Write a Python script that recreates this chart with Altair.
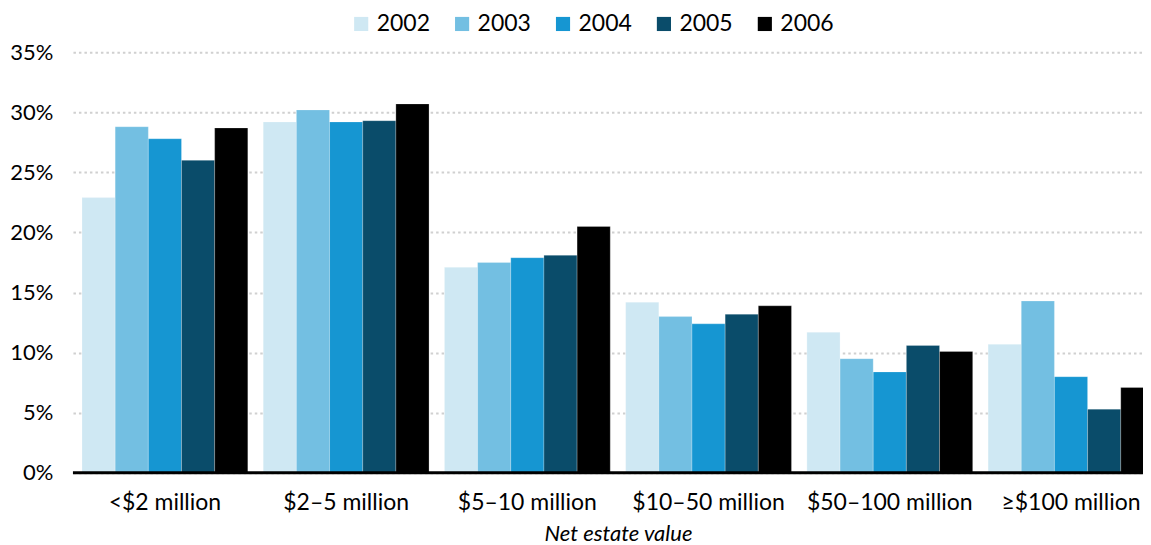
import altair as alt
import pandas as pd

categories = ["<$2 million", "$2–5 million", "$5–10 million", "$10–50 million", "$50–100 million", "≥$100 million"]
years = ["2002", "2003", "2004", "2005", "2006"]
values = {
    "2002": [22.9, 29.2, 17.1, 14.2, 11.7, 10.7],
    "2003": [28.8, 30.2, 17.5, 13.0, 9.5, 14.3],
    "2004": [27.8, 29.2, 17.9, 12.4, 8.4, 8.0],
    "2005": [26.0, 29.3, 18.1, 13.2, 10.6, 5.3],
    "2006": [28.7, 30.7, 20.5, 13.9, 10.1, 7.1],
}
colors = ["#cfe8f3", "#73bfe2", "#1696d2", "#0a4c6a", "#000000"]
y_ticks = [0, 5, 10, 15, 20, 25, 30, 35]

rows = []
for y in years:
    for c, v in zip(categories, values[y]):
        rows.append({"category": c, "year": y, "value": v})
df = pd.DataFrame(rows)

FONT = "Lato"

bars = alt.Chart(df).mark_bar(stroke="white", strokeWidth=0.6, strokeOpacity=0.4).encode(
    x=alt.X("category:N", sort=categories,
            scale=alt.Scale(paddingInner=0.085, paddingOuter=0.05),
            axis=alt.Axis(title="Net estate value", titleFont=FONT, titleFontStyle="italic",
                          titleFontWeight="normal", titleFontSize=22, titleColor="#000",
                          titlePadding=9, labelFont=FONT, labelFontSize=23, labelColor="#000",
                          labelPadding=19, ticks=False, domain=False, grid=False, labelAngle=0)),
    xOffset=alt.XOffset("year:N", sort=years, scale=alt.Scale(paddingInner=0, paddingOuter=0)),
    y=alt.Y("value:Q", scale=alt.Scale(domain=[0, 35], nice=False),
            axis=alt.Axis(values=y_ticks, title=None, labelExpr="datum.value + '%'",
                          labelFont=FONT, labelFontSize=22, labelColor="#000", labelPadding=20,
                          ticks=False, domain=False, grid=True, gridColor="#d0d0d0",
                          gridDash=[2.5, 3], gridWidth=2)),
    color=alt.Color("year:N", sort=years, scale=alt.Scale(domain=years, range=colors),
                    legend=alt.Legend(title=None, orient="none", direction="horizontal",
                                      legendX=277, legendY=-40, symbolType="square",
                                      symbolSize=200, symbolStrokeWidth=0, labelFont=FONT,
                                      labelFontSize=23, labelColor="#000", labelOffset=4,
                                      columnPadding=20)),
)

base = alt.Chart(pd.DataFrame({"v": [0]})).mark_rule(color="black", strokeWidth=3).encode(
    y=alt.Y("v:Q"),
)

chart = alt.layer(bars, base).properties(
    width=1091, height=421,
    padding={"left": 1, "top": 4, "right": -22, "bottom": 2},
).configure(font=FONT).configure_view(stroke=None)

chart.save("out.html", embed_options={"renderer": "svg", "actions": False})
